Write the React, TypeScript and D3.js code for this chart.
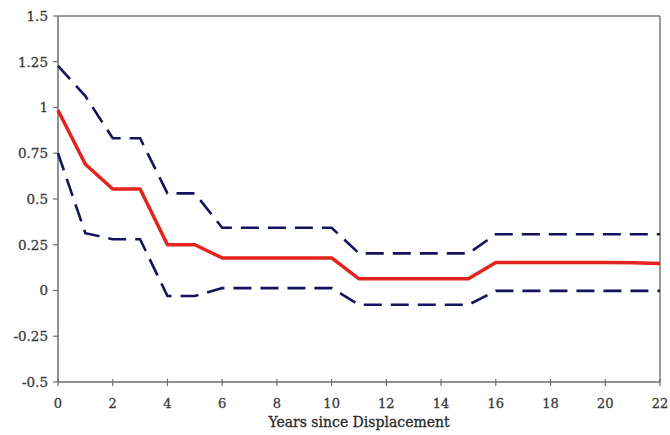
import React from "react";
import * as d3 from "d3";

const years = [0,1,2,3,4,5,6,7,8,9,10,11,12,13,14,15,16,17,18,19,20,21,22];
const estimate = [0.985,0.69,0.555,0.555,0.25,0.25,0.178,0.178,0.178,0.178,0.178,0.064,0.064,0.064,0.064,0.064,0.153,0.153,0.153,0.153,0.153,0.152,0.148];
const upper = [1.228,1.062,0.832,0.832,0.531,0.531,0.343,0.343,0.343,0.343,0.343,0.203,0.203,0.203,0.203,0.203,0.307,0.307,0.307,0.307,0.307,0.307,0.307];
const lower = [0.75,0.313,0.28,0.28,-0.03,-0.03,0.013,0.013,0.013,0.013,0.013,-0.078,-0.078,-0.078,-0.078,-0.078,-0.002,-0.002,-0.002,-0.002,-0.002,-0.002,-0.002];
const yTicks = [-0.5,-0.25,0,0.25,0.5,0.75,1,1.25,1.5];
const xTicks = [0,2,4,6,8,10,12,14,16,18,20,22];
const xTitle = "Years since Displacement";

const W = 670, H = 435;
const L = 58, R = 660, T = 16, B = 382;

export default function App() {
  const x = d3.scaleLinear().domain([0, 22]).range([L, R]);
  const y = d3.scaleLinear().domain([-0.5, 1.5]).range([B, T]);
  const line = (vals: number[]) =>
    d3.line<number>().x((_, i) => x(years[i])).y((d) => y(d))(vals) || "";
  const fmt = (v: number) => String(v);
  const font = "'DejaVu Serif', 'Liberation Serif', serif";
  return (
    <svg width={W} height={H} style={{ position: "absolute", left: 0, top: 0, background: "#fff" }}>
      <rect x={0} y={0} width={W} height={H} fill="#fff" />
      <line x1={L} x2={R} y1={T} y2={T} stroke="#7a7a7a" strokeWidth={1.5} />
      <line x1={R} x2={R} y1={T} y2={B} stroke="#7a7a7a" strokeWidth={1.5} />
      <line x1={L} x2={L} y1={T} y2={B} stroke="#6e6e6e" strokeWidth={1.5} />
      <line x1={L} x2={R} y1={B} y2={B} stroke="#6e6e6e" strokeWidth={1.5} />
      {yTicks.map((t) => (
        <g key={"y" + t}>
          <line x1={L - 5} x2={L} y1={y(t)} y2={y(t)} stroke="#6e6e6e" strokeWidth={1.2} />
          <text x={L - 10} y={y(t)} dy="0.36em" textAnchor="end" fontFamily={font}
            fontSize={13.5} fill="#3a3a3a" stroke="#3a3a3a" strokeWidth={0.3}>{fmt(t)}</text>
        </g>
      ))}
      {xTicks.map((t) => (
        <g key={"x" + t}>
          <line x1={x(t)} x2={x(t)} y1={B - 3} y2={B + 4} stroke="#6e6e6e" strokeWidth={1.2} />
          <text x={x(t)} y={B + 26} textAnchor="middle" fontFamily={font}
            fontSize={13} fill="#3a3a3a" stroke="#3a3a3a" strokeWidth={0.3}>{t}</text>
        </g>
      ))}
      <text x={359} y={427} textAnchor="middle" fontFamily={font} fontSize={14}
        fill="#2a2a2a" stroke="#2a2a2a" strokeWidth={0.3}>{xTitle}</text>
      <path d={line(upper)} fill="none" stroke="#13135e" strokeWidth={2.6} strokeDasharray="18,9" />
      <path d={line(lower)} fill="none" stroke="#13135e" strokeWidth={2.6} strokeDasharray="18,9" />
      <path d={line(estimate)} fill="none" stroke="#e3241c" strokeWidth={3.5} strokeLinejoin="round" />
    </svg>
  );
}
